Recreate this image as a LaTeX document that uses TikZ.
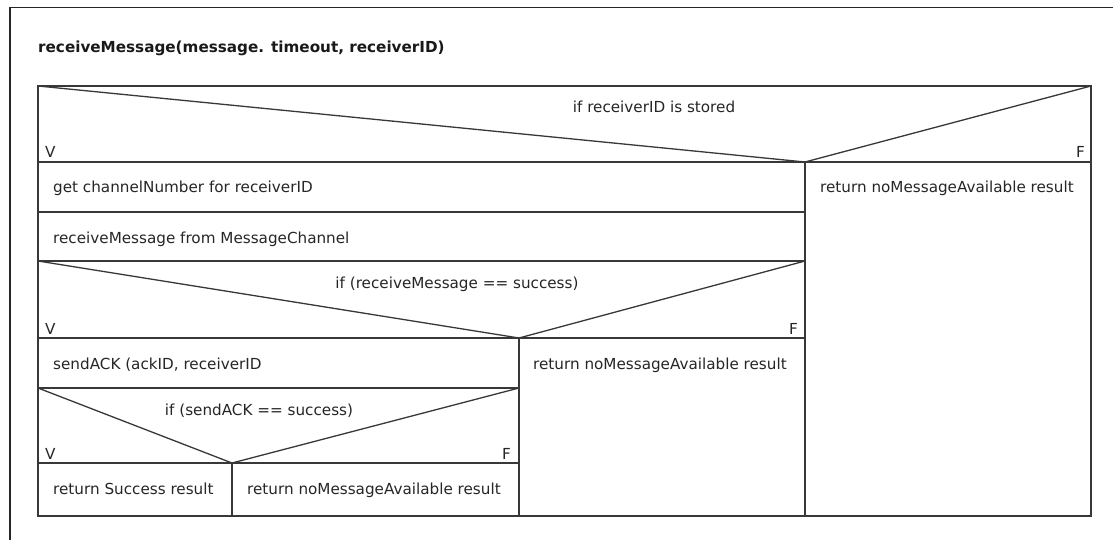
\documentclass[tikz,border=0pt]{standalone}
\usepackage{fontspec}
\setmainfont{DejaVu Sans}
\tikzset{
  ln/.style={draw=black!78, line width=1.3pt},
  frameln/.style={draw=black!85, line width=1.4pt},
  basefont/.style={inner sep=0pt, text=black!85, font=\fontsize{15.2}{18}\selectfont},
  txt/.style={basefont, anchor=base west},
  ctxt/.style={basefont, anchor=base},
  rtxt/.style={basefont, anchor=base east},
  titletxt/.style={inner sep=0pt, anchor=base west, text=black!90, font=\fontsize{15.2}{18}\selectfont\bfseries}
}
\begin{document}
\begin{tikzpicture}[x=1pt,y=-1pt]
\fill[white] (0,0) rectangle (1113,540);
\useasboundingbox (0,0) rectangle (1113,540);
% outer frame (partially visible)
\draw[frameln] (1113,7.5) -- (10,7.5) -- (10,540);
% title
\node[titletxt] (title) at (38,53) {receiveMessage(message. timeout, receiverID)};
% main box
\coordinate (tl) at (38,86);
\coordinate (tr) at (1091,86);
\coordinate (br) at (1091,516);
\coordinate (j1) at (805,162);
\coordinate (j2) at (519,338);
\coordinate (j3) at (232,463);
\draw[ln] (tl) rectangle (br);
% horizontal rules
\draw[ln] (38,162) -- (1091,162);
\draw[ln] (38,212) -- (805,212);
\draw[ln] (38,261) -- (805,261);
\draw[ln] (38,338) -- (805,338);
\draw[ln] (38,388) -- (519,388);
\draw[ln] (38,463) -- (519,463);
% vertical rules
\draw[ln] (j1) -- (805,516);
\draw[ln] (j2) -- (519,516);
\draw[ln] (j3) -- (232,516);
% decision diagonals
\draw[ln] (tl) -- (j1) -- (tr);
\draw[ln] (38,261) -- (j2) -- (805,261);
\draw[ln] (38,388) -- (j3) -- (519,388);
% decision 1
\node[ctxt] (d1) at (654,113) {if receiverID is stored};
\node[txt] (d1v) at (45,158) {V};
\node[rtxt] (d1f) at (1085,158) {F};
\node[txt] (s1) at (53,193) {get channelNumber for receiverID};
\node[txt] (s2) at (53,243) {receiveMessage from MessageChannel};
\node[txt] (r1) at (820,193) {return noMessageAvailable result};
% decision 2
\node[ctxt] (d2) at (457,288) {if (receiveMessage == success)};
\node[txt] (d2v) at (45,334) {V};
\node[rtxt] (d2f) at (798,334) {F};
\node[txt] (s3) at (53,369) {sendACK (ackID, receiverID};
\node[txt] (r2) at (533,369) {return noMessageAvailable result};
% decision 3
\node[ctxt] (d3) at (259,415) {if (sendACK == success)};
\node[txt] (d3v) at (45,459) {V};
\node[rtxt] (d3f) at (511,459) {F};
\node[txt] (r3) at (53,494) {return Success result};
\node[txt] (r4) at (247,494) {return noMessageAvailable result};
\end{tikzpicture}
\end{document}
